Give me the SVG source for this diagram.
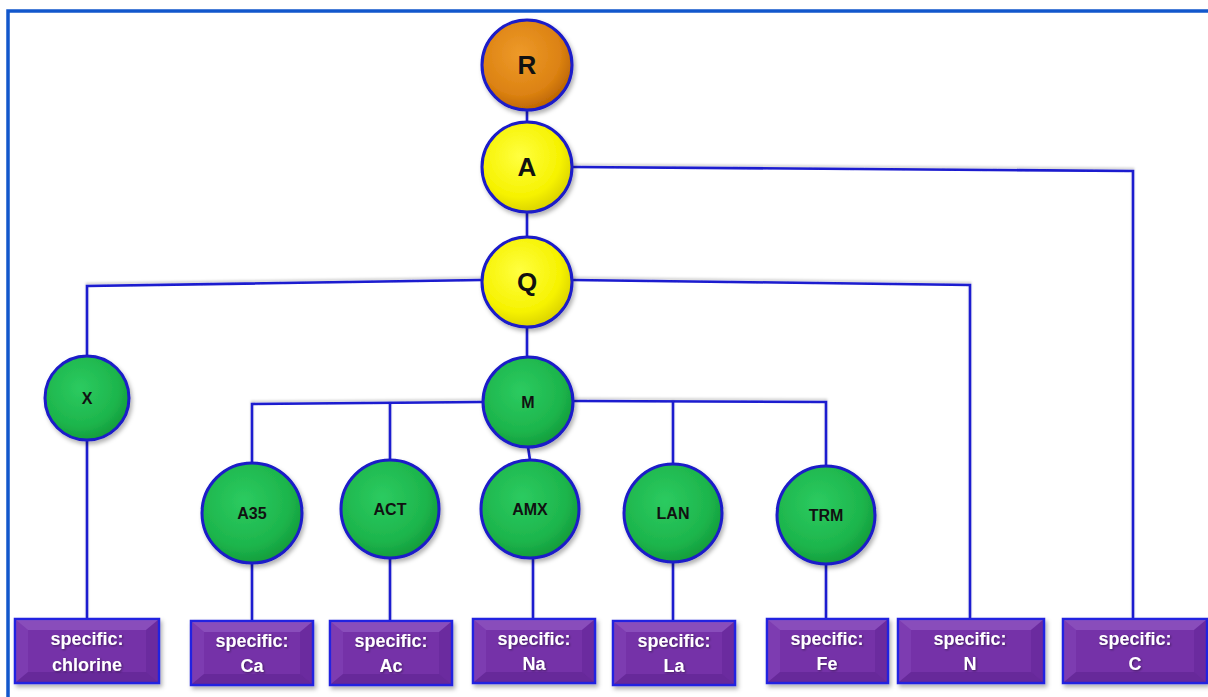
<svg xmlns="http://www.w3.org/2000/svg" width="1208" height="697" viewBox="0 0 1208 697">
<style>
.frame{fill:none;stroke:#1257CC;stroke-width:3.5}
.conn path{fill:none;stroke:#1A1ACF;stroke-width:2.6}
.circ{stroke:#1A1AC8;stroke-width:3;filter:url(#sh)}
.big{font-family:"Liberation Sans",Arial,sans-serif;font-weight:bold;font-size:26px;fill:#111;text-anchor:middle}
.sm{font-family:"Liberation Sans",Arial,sans-serif;font-weight:bold;font-size:16px;fill:#111;text-anchor:middle}
.box rect.b{fill:#7432A8;stroke:#2424E0;stroke-width:2.5;filter:url(#sh)}
.bev-t{fill:#A26ED2;opacity:0.45}
.bev-l{fill:#8C50C2;opacity:0.35}
.bev-r{fill:#5A2090;opacity:0.35}
.bev-b{fill:#4E1A80;opacity:0.35}
.bt{font-family:"Liberation Sans",Arial,sans-serif;font-weight:bold;font-size:18px;fill:#fff;text-anchor:middle;filter:url(#tsh)}
</style>
<defs>
<radialGradient id="gOr" cx="0.42" cy="0.38" r="0.65">
<stop offset="0" stop-color="#EE9A2A"/><stop offset="0.7" stop-color="#DC8212"/><stop offset="1" stop-color="#B86200"/>
</radialGradient>
<radialGradient id="gYe" cx="0.42" cy="0.38" r="0.65">
<stop offset="0" stop-color="#FFFF40"/><stop offset="0.7" stop-color="#F6F200"/><stop offset="1" stop-color="#D8D000"/>
</radialGradient>
<radialGradient id="gGr" cx="0.42" cy="0.38" r="0.65">
<stop offset="0" stop-color="#2CCB60"/><stop offset="0.7" stop-color="#1DB54C"/><stop offset="1" stop-color="#129A3A"/>
</radialGradient>
<filter id="sh" x="-20%" y="-20%" width="150%" height="150%">
<feDropShadow dx="2" dy="3" stdDeviation="2" flood-color="#000" flood-opacity="0.3"/>
</filter>
<filter id="lsh" filterUnits="userSpaceOnUse" x="0" y="0" width="1208" height="697">
<feDropShadow dx="0" dy="-2" stdDeviation="1.2" flood-color="#000" flood-opacity="0.18"/>
</filter>
<filter id="tsh" x="-10%" y="-20%" width="120%" height="150%">
<feDropShadow dx="1" dy="1" stdDeviation="0.8" flood-color="#000" flood-opacity="0.45"/>
</filter>
</defs>
<rect x="0" y="0" width="1208" height="697" fill="#fff"/>
<path class="frame" d="M8,697 L8,11 L1208,11"/>

<g id="connectors" class="conn" filter="url(#lsh)">
<path d="M527,110 L527,122"/>
<path d="M572,167 L1133,171 L1133,619"/>
<path d="M527,212 L527,237"/>
<path d="M482,280 L87,286 L87,356"/>
<path d="M572,280 L970,285 L970,619"/>
<path d="M527,327 L527,357"/>
<path d="M483,402 L252,404 L252,463"/>
<path d="M390,403 L390,460"/>
<path d="M573,401 L826,402 L826,466"/>
<path d="M673,401.5 L673,464"/>
<path d="M528,447 L530,460"/>
<path d="M87,440 L87,619"/>
<path d="M252,563 L252,621"/>
<path d="M390,558 L390,621"/>
<path d="M533,558 L533,619"/>
<path d="M673,563 L673,621"/>
<path d="M826,564 L826,619"/>
</g>

<g id="node-R"><circle class="circ" cx="527" cy="65" r="45" fill="url(#gOr)"/><text class="big" x="527" y="74">R</text></g>
<g id="node-A"><circle class="circ" cx="527" cy="167" r="45" fill="url(#gYe)"/><text class="big" x="527" y="176">A</text></g>
<g id="node-Q"><circle class="circ" cx="527" cy="282" r="45" fill="url(#gYe)"/><text class="big" x="527" y="291">Q</text></g>
<g id="node-X"><circle class="circ" cx="87" cy="398" r="42" fill="url(#gGr)"/><text class="sm" x="87" y="404">X</text></g>
<g id="node-M"><circle class="circ" cx="528" cy="402" r="45" fill="url(#gGr)"/><text class="sm" x="528" y="408">M</text></g>
<g id="node-A35"><circle class="circ" cx="252" cy="513" r="50" fill="url(#gGr)"/><text class="sm" x="252" y="519">A35</text></g>
<g id="node-ACT"><circle class="circ" cx="390" cy="509" r="49" fill="url(#gGr)"/><text class="sm" x="390" y="515">ACT</text></g>
<g id="node-AMX"><circle class="circ" cx="530" cy="509" r="49" fill="url(#gGr)"/><text class="sm" x="530" y="515">AMX</text></g>
<g id="node-LAN"><circle class="circ" cx="673" cy="513" r="49" fill="url(#gGr)"/><text class="sm" x="673" y="519">LAN</text></g>
<g id="node-TRM"><circle class="circ" cx="826" cy="515" r="49" fill="url(#gGr)"/><text class="sm" x="826" y="521">TRM</text></g>

<g id="box-chlorine" class="box">
<rect class="b" x="15" y="619" width="144" height="64"/>
<polygon class="bev-t" points="16,620 158,620 146,630 28,630"/>
<polygon class="bev-l" points="16,620 28,630 28,672 16,682"/>
<polygon class="bev-r" points="158,620 146,630 146,672 158,682"/>
<polygon class="bev-b" points="16,682 28,672 146,672 158,682"/>
<text class="bt" x="87" y="645">specific:</text><text class="bt" x="87" y="671">chlorine</text>
</g>
<g id="box-Ca" class="box">
<rect class="b" x="191" y="621" width="122" height="64"/>
<polygon class="bev-t" points="192,622 312,622 300,632 204,632"/>
<polygon class="bev-l" points="192,622 204,632 204,674 192,684"/>
<polygon class="bev-r" points="312,622 300,632 300,674 312,684"/>
<polygon class="bev-b" points="192,684 204,674 300,674 312,684"/>
<text class="bt" x="252" y="647">specific:</text><text class="bt" x="252" y="672">Ca</text>
</g>
<g id="box-Ac" class="box">
<rect class="b" x="330" y="621" width="122" height="64"/>
<polygon class="bev-t" points="331,622 451,622 439,632 343,632"/>
<polygon class="bev-l" points="331,622 343,632 343,674 331,684"/>
<polygon class="bev-r" points="451,622 439,632 439,674 451,684"/>
<polygon class="bev-b" points="331,684 343,674 439,674 451,684"/>
<text class="bt" x="391" y="647">specific:</text><text class="bt" x="391" y="672">Ac</text>
</g>
<g id="box-Na" class="box">
<rect class="b" x="473" y="619" width="122" height="64"/>
<polygon class="bev-t" points="474,620 594,620 582,630 486,630"/>
<polygon class="bev-l" points="474,620 486,630 486,672 474,682"/>
<polygon class="bev-r" points="594,620 582,630 582,672 594,682"/>
<polygon class="bev-b" points="474,682 486,672 582,672 594,682"/>
<text class="bt" x="534" y="645">specific:</text><text class="bt" x="534" y="670">Na</text>
</g>
<g id="box-La" class="box">
<rect class="b" x="613" y="621" width="122" height="64"/>
<polygon class="bev-t" points="614,622 734,622 722,632 626,632"/>
<polygon class="bev-l" points="614,622 626,632 626,674 614,684"/>
<polygon class="bev-r" points="734,622 722,632 722,674 734,684"/>
<polygon class="bev-b" points="614,684 626,674 722,674 734,684"/>
<text class="bt" x="674" y="647">specific:</text><text class="bt" x="674" y="672">La</text>
</g>
<g id="box-Fe" class="box">
<rect class="b" x="767" y="619" width="121" height="64"/>
<polygon class="bev-t" points="768,620 887,620 875,630 780,630"/>
<polygon class="bev-l" points="768,620 780,630 780,672 768,682"/>
<polygon class="bev-r" points="887,620 875,630 875,672 887,682"/>
<polygon class="bev-b" points="768,682 780,672 875,672 887,682"/>
<text class="bt" x="827" y="645">specific:</text><text class="bt" x="827" y="670">Fe</text>
</g>
<g id="box-N" class="box">
<rect class="b" x="898" y="619" width="146" height="64"/>
<polygon class="bev-t" points="899,620 1043,620 1031,630 911,630"/>
<polygon class="bev-l" points="899,620 911,630 911,672 899,682"/>
<polygon class="bev-r" points="1043,620 1031,630 1031,672 1043,682"/>
<polygon class="bev-b" points="899,682 911,672 1031,672 1043,682"/>
<text class="bt" x="970" y="645">specific:</text><text class="bt" x="970" y="670">N</text>
</g>
<g id="box-C" class="box">
<rect class="b" x="1063" y="619" width="144" height="64"/>
<polygon class="bev-t" points="1064,620 1206,620 1194,630 1076,630"/>
<polygon class="bev-l" points="1064,620 1076,630 1076,672 1064,682"/>
<polygon class="bev-r" points="1206,620 1194,630 1194,672 1206,682"/>
<polygon class="bev-b" points="1064,682 1076,672 1194,672 1206,682"/>
<text class="bt" x="1135" y="645">specific:</text><text class="bt" x="1135" y="670">C</text>
</g>
</svg>
